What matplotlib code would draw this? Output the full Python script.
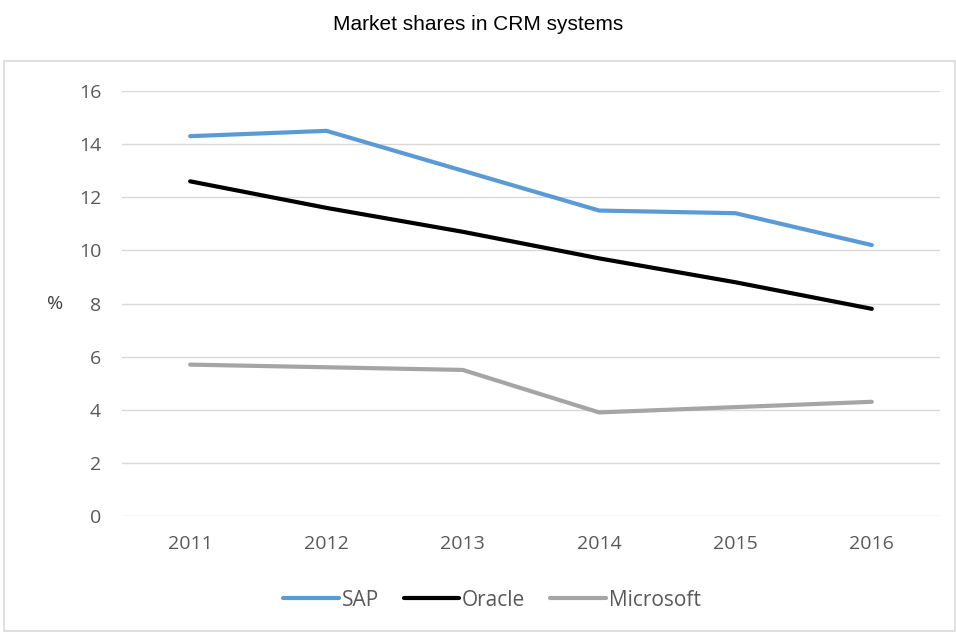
import matplotlib
matplotlib.use('Agg')
import matplotlib.pyplot as plt
from matplotlib.patches import Rectangle

# Data
years = ['2011', '2012', '2013', '2014', '2015', '2016']
sap = [14.3, 14.5, 13.0, 11.5, 11.4, 10.2]
oracle = [12.6, 11.6, 10.7, 9.7, 8.8, 7.8]
microsoft = [5.7, 5.6, 5.5, 3.9, 4.1, 4.3]

fig = plt.figure(figsize=(9.56, 6.32), dpi=100)
ax = fig.add_axes([0.1276, 0.1835, 0.8556, 0.6725])

# outer chart border
fig.patches.append(Rectangle((4 / 956, 1 / 632), 951 / 956, 570 / 632, transform=fig.transFigure,
                             fill=False, edgecolor='#d9d9d9', linewidth=1.2))

x = range(len(years))
ax.plot(x, sap, color='#5b9bd5', lw=3, solid_capstyle='round', label='SAP')
ax.plot(x, oracle, color='black', lw=3, solid_capstyle='round', label='Oracle')
ax.plot(x, microsoft, color='#a5a5a5', lw=3, solid_capstyle='round', label='Microsoft')

ax.set_xlim(-0.5, len(years) - 0.5)
ax.set_ylim(0, 16)
ax.set_yticks(range(0, 17, 2))
ax.set_xticks(list(x))
ax.set_xticklabels(years)
ax.grid(axis='y', color='#d9d9d9', lw=1)
ax.set_axisbelow(True)
for s in ax.spines.values():
    s.set_visible(False)
ax.tick_params(length=0, labelsize=14, labelcolor='#595959')
ax.tick_params(axis='x', pad=14)
ax.tick_params(axis='y', pad=15)
for lab in ax.get_xticklabels() + ax.get_yticklabels():
    lab.set_family('Open Sans')

fig.text(55 / 956, 1 - 304 / 632, '%', ha='center', va='center', fontsize=14,
         color='#404040', family='Open Sans')

fig.text(0.5, 1 - 30 / 632, 'Market shares in CRM systems', ha='center', va='baseline',
         fontsize=15, family='Liberation Sans')

leg = fig.legend(loc='center', bbox_to_anchor=(492 / 956, 1 - 600 / 632), ncol=3, frameon=False,
                 handlelength=2.65, handletextpad=0.15, columnspacing=1.2,
                 prop={'family': 'Open Sans', 'size': 15})
for t in leg.get_texts():
    t.set_color('#595959')

fig.savefig('out.png', dpi=100)
